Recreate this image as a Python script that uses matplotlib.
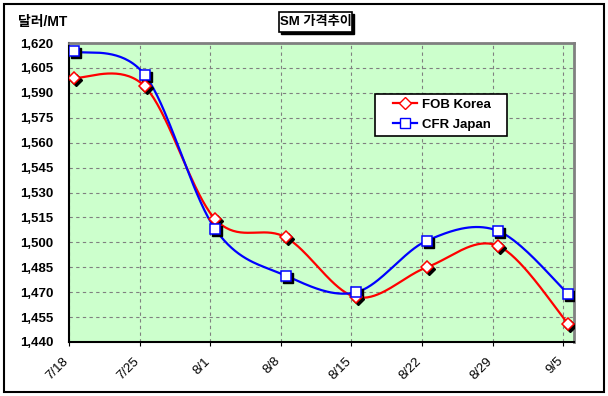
import numpy as np
import matplotlib
matplotlib.use('Agg')
import matplotlib.pyplot as plt
from matplotlib.transforms import offset_copy
from matplotlib.patches import Rectangle
from matplotlib.lines import Line2D
from matplotlib.legend_handler import HandlerLine2D

dates = ['7/18', '7/25', '8/1', '8/8', '8/15', '8/22', '8/29', '9/5']
fob_korea = [1599, 1594, 1514, 1503, 1467, 1485, 1498, 1451]
cfr_japan = [1615, 1601, 1508, 1480, 1470, 1501, 1507, 1469]
y_ticks = list(range(1440, 1621, 15))
title = 'SM 가격추이'
unit = '달러/MT'
series_names = ['FOB Korea', 'CFR Japan']

plt.rcParams['font.family'] = ['Liberation Sans', 'Noto Sans CJK KR']
plt.rcParams['font.weight'] = 'bold'


def smooth(xs, ys, n=40):
    P = np.column_stack([xs, ys]).astype(float)
    P = np.vstack([P[0], P, P[-1]])
    out = []
    for i in range(1, len(P) - 2):
        p0, p1, p2, p3 = P[i - 1], P[i], P[i + 1], P[i + 2]
        c1 = p1 + (p2 - p0) / 6
        c2 = p2 - (p3 - p1) / 6
        t = np.linspace(0, 1, n)[:, None]
        seg = (1 - t) ** 3 * p1 + 3 * (1 - t) ** 2 * t * c1 + 3 * (1 - t) * t ** 2 * c2 + t ** 3 * p2
        out.append(seg if i == 1 else seg[1:])
    out = np.vstack(out)
    return out[:, 0], out[:, 1]


W, H = 608, 396
fig = plt.figure(figsize=(W / 100, H / 100), dpi=100)
fig.patch.set_facecolor('white')
ax = fig.add_axes([69 / W, 54 / H, 505 / W, 299 / H])
ax.set_facecolor('#CCFFCC')

x = np.arange(len(dates)) + 0.07
shadow = offset_copy(ax.transData, fig=fig, x=2, y=-2, units='dots')

styles = [
    (fob_korea, 'red', 'D', 6.0),
    (cfr_japan, 'blue', 's', 6.5),
]
for vals, col, mk, ms in styles:
    sx, sy = smooth(x, vals)
    ax.plot(sx, sy, color=col, lw=1.6, zorder=3, solid_capstyle='round')
    ax.plot(x, vals, ls='none', marker=mk, ms=ms, mfc='black', mec='black',
            mew=1, transform=shadow, zorder=4)
    ax.plot(x, vals, ls='none', marker=mk, ms=ms, mfc='white', mec=col,
            mew=1.1, zorder=5)

ax.set_xlim(0, 505 / 70.6)
ax.set_ylim(1440, 1620)
ax.set_yticks(y_ticks)
ax.set_yticklabels([f'{v:,}' for v in y_ticks], fontsize=9.5, fontweight='bold')
ax.set_xticks(range(len(dates)))
ax.set_xticklabels(dates, rotation=45, ha='right', va='baseline', rotation_mode='anchor',
                   fontsize=9.5, fontweight='normal')
ax.tick_params(axis='y', length=0, pad=11.5)
ax.tick_params(axis='x', length=3, pad=11, color='black')
ax.grid(True, color='#808080', linestyle=(0, (3, 3)), linewidth=0.8, zorder=1)
ax.set_axisbelow(True)

for s in ['left', 'bottom']:
    ax.spines[s].set_color('black')
    ax.spines[s].set_linewidth(1.5)
for s in ['top', 'right']:
    ax.spines[s].set_color('#808080')
    ax.spines[s].set_linewidth(2)

handles = [
    Line2D([], [], color='red', lw=1.6, marker='D', ms=6, mfc='white', mec='red'),
    Line2D([], [], color='blue', lw=1.6, marker='s', ms=6.5, mfc='white', mec='blue'),
]
lx0, lx1, ly0 = 375, 507, 94
leg = ax.legend(handles, series_names, loc='upper left',
                bbox_to_anchor=((lx0 - 69) / 505, 0, (lx1 - lx0) / 505, (342 - ly0) / 299),
                mode='expand',
                handler_map={Line2D: HandlerLine2D(xpad=1.05)},
                frameon=True, fancybox=False, shadow=False, edgecolor='black',
                framealpha=1, handlelength=2.85, handletextpad=0.35,
                borderpad=0.35, labelspacing=0.6, borderaxespad=0,
                prop={'weight': 'bold', 'size': 9.5})
leg.get_frame().set_linewidth(1.2)

# unit label
fig.text(18 / W, 1 - 22 / H, unit, ha='left', va='center', fontsize=10, fontweight='bold')

# title box with shadow
bx0, by0, bx1, by1 = 279, 12, 352, 32
fig.patches.append(Rectangle(((bx0 + 2) / W, 1 - (by1 + 2) / H), (bx1 - bx0) / W, (by1 - by0) / H,
                             transform=fig.transFigure, facecolor='black', edgecolor='black',
                             zorder=1))
fig.patches.append(Rectangle((bx0 / W, 1 - by1 / H), (bx1 - bx0) / W, (by1 - by0) / H,
                             transform=fig.transFigure, facecolor='white', edgecolor='black',
                             lw=1.2, zorder=2))
fig.text((bx0 + bx1) / 2 / W, 1 - (by0 + by1) / 2 / H, title, ha='center', va='center',
         fontsize=9.5, fontweight='bold', zorder=3)

# outer border
fig.patches.append(Rectangle((4 / W, 4 / H), 600 / W, 388 / H, transform=fig.transFigure,
                             facecolor='none', edgecolor='black', lw=1.5, zorder=0))

fig.savefig('out.png', dpi=100)
